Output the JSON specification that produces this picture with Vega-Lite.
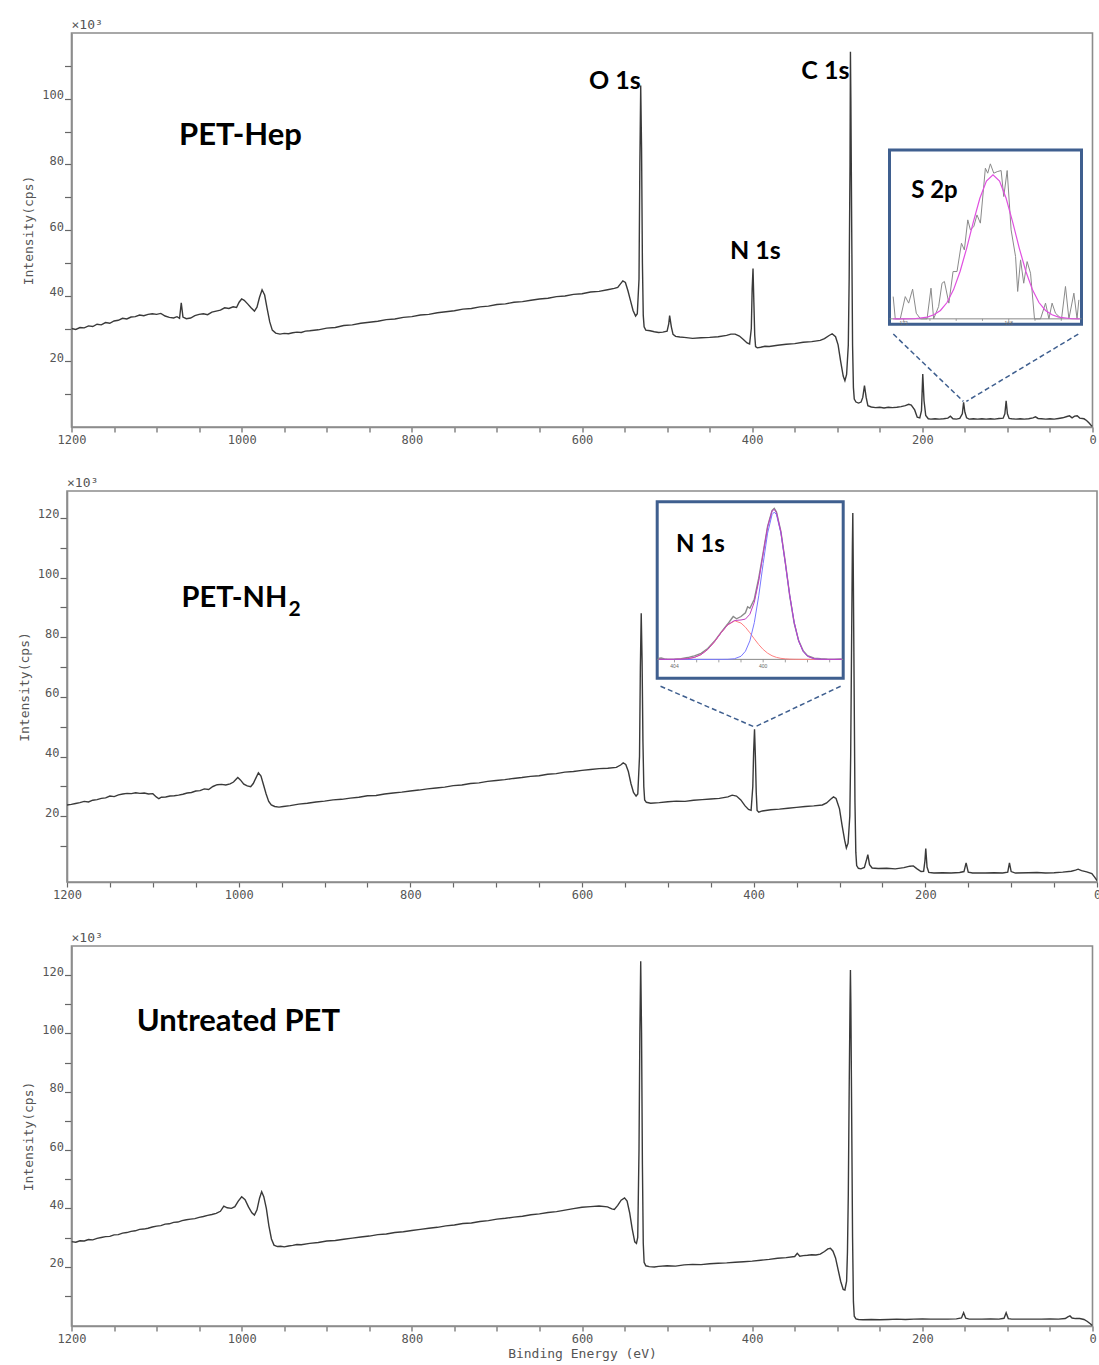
{
  "$schema": "https://vega.github.io/schema/vega-lite/v6.json",
  "padding": {"left": 17, "top": 18, "right": 0, "bottom": 0},
  "background": "white",
  "bounds": "flush",
  "center": true,
  "spacing": 64,
  "datasets": {
    "hep": [
      {"E":1200,"I":30.0},{"E":1195,"I":29.7},{"E":1190,"I":30.3},{"E":1185,"I":30.2},{"E":1180,"I":30.8},{"E":1175,"I":30.6},{"E":1170,"I":31.3},{"E":1165,"I":31.1},{"E":1160,"I":31.8},{"E":1155,"I":31.6},{"E":1150,"I":32.3},{"E":1145,"I":32.5},{"E":1140,"I":33.1},{"E":1135,"I":32.9},{"E":1130,"I":33.5},{"E":1125,"I":33.6},{"E":1120,"I":34.1},{"E":1115,"I":33.9},{"E":1110,"I":34.3},{"E":1105,"I":34.5},{"E":1100,"I":34.3},{"E":1095,"I":34.6},{"E":1090,"I":33.8},{"E":1085,"I":33.4},{"E":1080,"I":33.2},{"E":1076,"I":33.6},{"E":1073,"I":33.1},{"E":1071,"I":37.8},{"E":1069,"I":33.5},{"E":1065,"I":33.0},{"E":1060,"I":33.2},{"E":1055,"I":33.9},{"E":1050,"I":34.3},{"E":1045,"I":34.5},{"E":1040,"I":34.2},{"E":1035,"I":35.0},{"E":1030,"I":35.3},{"E":1025,"I":35.6},{"E":1020,"I":36.3},{"E":1015,"I":36.1},{"E":1010,"I":36.6},{"E":1006,"I":36.4},{"E":1003,"I":38.0},{"E":1000,"I":39.0},{"E":997,"I":38.6},{"E":993,"I":37.5},{"E":989,"I":36.3},{"E":985,"I":35.3},{"E":982,"I":36.5},{"E":979,"I":39.5},{"E":976,"I":41.8},{"E":973,"I":40.2},{"E":970,"I":36.0},{"E":967,"I":32.0},{"E":964,"I":29.5},{"E":960,"I":28.6},{"E":955,"I":28.3},{"E":950,"I":28.5},{"E":945,"I":28.4},{"E":940,"I":28.7},{"E":935,"I":28.9},{"E":930,"I":28.8},{"E":925,"I":29.2},{"E":920,"I":29.3},{"E":910,"I":29.6},{"E":900,"I":30.1},{"E":890,"I":30.3},{"E":880,"I":30.9},{"E":870,"I":31.1},{"E":860,"I":31.6},{"E":850,"I":31.9},{"E":840,"I":32.2},{"E":830,"I":32.7},{"E":820,"I":32.9},{"E":810,"I":33.4},{"E":800,"I":33.6},{"E":790,"I":34.1},{"E":780,"I":34.3},{"E":770,"I":34.8},{"E":760,"I":35.1},{"E":750,"I":35.4},{"E":740,"I":35.9},{"E":730,"I":36.1},{"E":720,"I":36.6},{"E":710,"I":36.8},{"E":700,"I":37.3},{"E":690,"I":37.5},{"E":680,"I":38.0},{"E":670,"I":38.2},{"E":660,"I":38.6},{"E":650,"I":39.0},{"E":640,"I":39.2},{"E":630,"I":39.7},{"E":620,"I":39.9},{"E":610,"I":40.4},{"E":600,"I":40.6},{"E":590,"I":41.1},{"E":580,"I":41.3},{"E":570,"I":41.8},{"E":562,"I":42.2},{"E":558,"I":42.5},{"E":555,"I":43.5},{"E":552,"I":44.5},{"E":549,"I":44.0},{"E":546,"I":41.5},{"E":543,"I":38.5},{"E":540,"I":35.5},{"E":537,"I":33.8},{"E":535,"I":34.5},{"E":533,"I":45},{"E":532,"I":80},{"E":531,"I":104},{"E":530,"I":85},{"E":529,"I":50},{"E":528,"I":34},{"E":527,"I":30.5},{"E":525,"I":29.5},{"E":520,"I":29.3},{"E":515,"I":29.0},{"E":510,"I":28.8},{"E":505,"I":28.9},{"E":500,"I":29.2},{"E":498,"I":31.5},{"E":497,"I":33.9},{"E":495,"I":30.5},{"E":493,"I":28.2},{"E":490,"I":27.6},{"E":485,"I":27.4},{"E":480,"I":27.3},{"E":470,"I":27.0},{"E":460,"I":27.2},{"E":450,"I":27.3},{"E":440,"I":27.5},{"E":430,"I":27.9},{"E":425,"I":28.3},{"E":420,"I":28.3},{"E":415,"I":27.7},{"E":410,"I":26.6},{"E":406,"I":25.6},{"E":403,"I":25.3},{"E":401,"I":30},{"E":400,"I":42},{"E":399,"I":48.3},{"E":398,"I":38},{"E":397,"I":28},{"E":396,"I":24.5},{"E":394,"I":24.1},{"E":390,"I":24.3},{"E":385,"I":24.6},{"E":380,"I":24.5},{"E":370,"I":24.9},{"E":360,"I":25.2},{"E":350,"I":25.4},{"E":340,"I":25.8},{"E":330,"I":26.0},{"E":320,"I":26.4},{"E":315,"I":26.9},{"E":310,"I":27.8},{"E":306,"I":28.4},{"E":302,"I":27.5},{"E":299,"I":25},{"E":296,"I":20},{"E":293,"I":15.5},{"E":291,"I":14.1},{"E":289,"I":16},{"E":287,"I":25},{"E":286,"I":45},{"E":285,"I":80},{"E":284.5,"I":114.3},{"E":284,"I":100},{"E":283,"I":60},{"E":282,"I":25},{"E":281,"I":12},{"E":280,"I":8.5},{"E":278,"I":7.6},{"E":275,"I":7.3},{"E":272,"I":7.6},{"E":270,"I":9},{"E":268,"I":12.6},{"E":266,"I":9},{"E":264,"I":6.5},{"E":260,"I":6.1},{"E":255,"I":5.9},{"E":250,"I":6.0},{"E":245,"I":5.8},{"E":240,"I":6.0},{"E":235,"I":5.9},{"E":230,"I":6.0},{"E":225,"I":6.2},{"E":220,"I":6.5},{"E":216,"I":6.9},{"E":213,"I":6.7},{"E":209,"I":5.2},{"E":206,"I":3.0},{"E":203,"I":2.8},{"E":201,"I":5},{"E":199.5,"I":16.1},{"E":198,"I":8},{"E":196,"I":3.5},{"E":193,"I":2.5},{"E":190,"I":2.4},{"E":185,"I":2.5},{"E":180,"I":2.4},{"E":175,"I":2.5},{"E":170,"I":2.7},{"E":167,"I":3.3},{"E":164,"I":2.5},{"E":160,"I":2.4},{"E":156,"I":2.6},{"E":153,"I":4},{"E":151.5,"I":7.5},{"E":150,"I":4.5},{"E":148,"I":2.8},{"E":145,"I":2.4},{"E":140,"I":2.5},{"E":135,"I":2.4},{"E":130,"I":2.5},{"E":125,"I":2.4},{"E":120,"I":2.5},{"E":115,"I":2.4},{"E":110,"I":2.6},{"E":105,"I":2.7},{"E":103,"I":4},{"E":101.5,"I":8.0},{"E":100,"I":4},{"E":98,"I":2.6},{"E":95,"I":2.5},{"E":90,"I":2.4},{"E":85,"I":2.5},{"E":80,"I":2.4},{"E":75,"I":2.5},{"E":70,"I":2.8},{"E":67,"I":3.1},{"E":64,"I":2.6},{"E":60,"I":2.5},{"E":55,"I":2.4},{"E":50,"I":2.5},{"E":45,"I":2.4},{"E":40,"I":2.6},{"E":35,"I":2.8},{"E":30,"I":3.2},{"E":27,"I":3.4},{"E":24,"I":2.8},{"E":21,"I":3.3},{"E":18,"I":3.4},{"E":15,"I":2.7},{"E":10,"I":2.5},{"E":7,"I":2.0},{"E":4,"I":1.2},{"E":2,"I":0.6},{"E":0,"I":0.2}
    ],
    "nh2": [
      {"E":1200,"I":23.8},{"E":1195,"I":24.0},{"E":1190,"I":24.3},{"E":1185,"I":24.6},{"E":1180,"I":25.0},{"E":1175,"I":24.8},{"E":1170,"I":25.4},{"E":1165,"I":25.6},{"E":1160,"I":26.0},{"E":1155,"I":26.2},{"E":1150,"I":26.8},{"E":1145,"I":26.6},{"E":1140,"I":27.2},{"E":1135,"I":27.5},{"E":1130,"I":27.7},{"E":1125,"I":27.6},{"E":1120,"I":27.9},{"E":1115,"I":27.7},{"E":1110,"I":27.8},{"E":1105,"I":27.5},{"E":1100,"I":27.6},{"E":1096,"I":26.5},{"E":1093,"I":25.9},{"E":1090,"I":26.4},{"E":1085,"I":26.5},{"E":1080,"I":26.8},{"E":1075,"I":26.9},{"E":1070,"I":27.1},{"E":1065,"I":27.4},{"E":1060,"I":27.8},{"E":1055,"I":28.0},{"E":1050,"I":28.5},{"E":1045,"I":28.6},{"E":1040,"I":29.2},{"E":1035,"I":29.0},{"E":1030,"I":30.0},{"E":1025,"I":30.6},{"E":1020,"I":30.7},{"E":1015,"I":30.5},{"E":1010,"I":30.9},{"E":1006,"I":31.5},{"E":1003,"I":32.4},{"E":1001,"I":33.0},{"E":998,"I":32.2},{"E":994,"I":30.8},{"E":990,"I":30.2},{"E":986,"I":29.9},{"E":983,"I":31.0},{"E":980,"I":32.8},{"E":977,"I":34.6},{"E":974,"I":33.5},{"E":971,"I":30.5},{"E":968,"I":27.5},{"E":965,"I":25.0},{"E":962,"I":23.8},{"E":958,"I":23.3},{"E":953,"I":23.1},{"E":948,"I":23.3},{"E":940,"I":23.6},{"E":930,"I":24.1},{"E":920,"I":24.4},{"E":910,"I":24.8},{"E":900,"I":25.1},{"E":890,"I":25.5},{"E":880,"I":25.7},{"E":870,"I":26.1},{"E":860,"I":26.4},{"E":850,"I":26.9},{"E":840,"I":27.0},{"E":830,"I":27.5},{"E":820,"I":27.8},{"E":810,"I":28.1},{"E":800,"I":28.5},{"E":790,"I":28.8},{"E":780,"I":29.2},{"E":770,"I":29.5},{"E":760,"I":29.8},{"E":750,"I":30.3},{"E":740,"I":30.5},{"E":730,"I":31.0},{"E":720,"I":31.2},{"E":710,"I":31.7},{"E":700,"I":32.0},{"E":690,"I":32.3},{"E":680,"I":32.7},{"E":670,"I":33.0},{"E":660,"I":33.4},{"E":650,"I":33.6},{"E":640,"I":34.1},{"E":630,"I":34.3},{"E":620,"I":34.8},{"E":610,"I":35.0},{"E":600,"I":35.4},{"E":590,"I":35.7},{"E":580,"I":36.0},{"E":570,"I":36.1},{"E":560,"I":36.4},{"E":555,"I":37.2},{"E":552,"I":37.9},{"E":549,"I":37.4},{"E":546,"I":35},{"E":543,"I":31},{"E":540,"I":28},{"E":537,"I":26.8},{"E":535,"I":27.5},{"E":533,"I":40},{"E":532,"I":70},{"E":531,"I":88},{"E":530,"I":72},{"E":529,"I":45},{"E":528,"I":30},{"E":527,"I":25.5},{"E":525,"I":24.7},{"E":520,"I":24.4},{"E":510,"I":24.6},{"E":500,"I":24.9},{"E":490,"I":25.1},{"E":480,"I":25.0},{"E":470,"I":25.4},{"E":460,"I":25.6},{"E":450,"I":25.8},{"E":440,"I":26.0},{"E":430,"I":26.5},{"E":425,"I":27.1},{"E":420,"I":26.8},{"E":415,"I":25.5},{"E":410,"I":23.5},{"E":406,"I":22.3},{"E":403,"I":22.0},{"E":401,"I":30},{"E":400,"I":42},{"E":399,"I":49.2},{"E":398,"I":40},{"E":397,"I":28},{"E":396,"I":22},{"E":394,"I":21.4},{"E":390,"I":21.8},{"E":380,"I":22.2},{"E":370,"I":22.4},{"E":360,"I":22.7},{"E":350,"I":23.0},{"E":340,"I":23.3},{"E":330,"I":23.5},{"E":320,"I":23.8},{"E":315,"I":24.5},{"E":310,"I":25.8},{"E":307,"I":26.5},{"E":304,"I":26},{"E":300,"I":22.5},{"E":297,"I":17},{"E":294,"I":12},{"E":292,"I":9.4},{"E":290,"I":11},{"E":288,"I":20},{"E":287,"I":40},{"E":286,"I":75},{"E":285,"I":110},{"E":284.5,"I":121.6},{"E":284,"I":105},{"E":283,"I":65},{"E":282,"I":25},{"E":281,"I":8},{"E":280,"I":3.5},{"E":278,"I":2.6},{"E":275,"I":2.4},{"E":271,"I":2.9},{"E":268,"I":6},{"E":267,"I":7.2},{"E":265,"I":3.8},{"E":262,"I":2.7},{"E":255,"I":2.5},{"E":245,"I":2.6},{"E":235,"I":2.4},{"E":225,"I":2.8},{"E":218,"I":3.3},{"E":214,"I":3.4},{"E":210,"I":2.5},{"E":205,"I":1.5},{"E":202,"I":1.6},{"E":200.5,"I":5},{"E":199.5,"I":9.2},{"E":198,"I":3},{"E":196,"I":1.2},{"E":190,"I":1.0},{"E":180,"I":1.1},{"E":170,"I":1.0},{"E":160,"I":1.2},{"E":155,"I":1.5},{"E":152.5,"I":4.4},{"E":150,"I":1.3},{"E":145,"I":1.0},{"E":130,"I":1.0},{"E":120,"I":1.1},{"E":110,"I":1.0},{"E":104,"I":1.3},{"E":102,"I":4.4},{"E":100,"I":1.5},{"E":95,"I":1.0},{"E":80,"I":1.1},{"E":70,"I":1.2},{"E":60,"I":1.0},{"E":50,"I":1.1},{"E":40,"I":1.3},{"E":30,"I":1.6},{"E":25,"I":2.0},{"E":22,"I":2.3},{"E":18,"I":1.8},{"E":12,"I":1.4},{"E":6,"I":0.8},{"E":3,"I":-0.3},{"E":0,"I":-1.5}
    ],
    "untreated": [
      {"E":1200,"I":28.6},{"E":1195,"I":28.4},{"E":1190,"I":28.9},{"E":1185,"I":28.8},{"E":1180,"I":29.3},{"E":1175,"I":29.2},{"E":1170,"I":29.7},{"E":1165,"I":30.0},{"E":1160,"I":30.3},{"E":1155,"I":30.4},{"E":1150,"I":30.9},{"E":1145,"I":31.0},{"E":1140,"I":31.5},{"E":1135,"I":31.7},{"E":1130,"I":32.1},{"E":1125,"I":32.3},{"E":1120,"I":32.8},{"E":1115,"I":32.9},{"E":1110,"I":33.2},{"E":1105,"I":33.6},{"E":1100,"I":33.9},{"E":1095,"I":34.1},{"E":1090,"I":34.6},{"E":1085,"I":34.7},{"E":1080,"I":35.2},{"E":1075,"I":35.3},{"E":1070,"I":35.8},{"E":1065,"I":36.1},{"E":1060,"I":36.3},{"E":1055,"I":36.5},{"E":1050,"I":36.9},{"E":1045,"I":37.2},{"E":1040,"I":37.6},{"E":1035,"I":37.9},{"E":1030,"I":38.3},{"E":1025,"I":39.0},{"E":1021,"I":40.8},{"E":1017,"I":40.2},{"E":1012,"I":40.0},{"E":1008,"I":40.6},{"E":1004,"I":42.5},{"E":1000,"I":44.0},{"E":996,"I":43.0},{"E":992,"I":40.5},{"E":988,"I":38.5},{"E":985,"I":37.7},{"E":982,"I":39.5},{"E":979,"I":43.5},{"E":976.5,"I":45.7},{"E":974,"I":44.0},{"E":971,"I":40.0},{"E":968,"I":34.0},{"E":965,"I":29.5},{"E":962,"I":27.4},{"E":958,"I":26.9},{"E":954,"I":27.0},{"E":950,"I":26.8},{"E":945,"I":27.1},{"E":940,"I":27.3},{"E":935,"I":27.6},{"E":930,"I":27.5},{"E":920,"I":28.0},{"E":910,"I":28.3},{"E":900,"I":28.8},{"E":890,"I":29.0},{"E":880,"I":29.4},{"E":870,"I":29.8},{"E":860,"I":30.2},{"E":850,"I":30.5},{"E":840,"I":31.0},{"E":830,"I":31.2},{"E":820,"I":31.7},{"E":810,"I":32.0},{"E":800,"I":32.4},{"E":790,"I":32.8},{"E":780,"I":33.2},{"E":770,"I":33.5},{"E":760,"I":34.0},{"E":750,"I":34.3},{"E":740,"I":34.8},{"E":730,"I":35.0},{"E":720,"I":35.5},{"E":710,"I":35.8},{"E":700,"I":36.3},{"E":690,"I":36.6},{"E":680,"I":37.0},{"E":670,"I":37.3},{"E":660,"I":37.8},{"E":650,"I":38.1},{"E":640,"I":38.6},{"E":630,"I":38.9},{"E":620,"I":39.4},{"E":610,"I":39.9},{"E":600,"I":40.4},{"E":590,"I":40.6},{"E":580,"I":40.8},{"E":570,"I":40.5},{"E":565,"I":39.8},{"E":562,"I":39.6},{"E":558,"I":41},{"E":554,"I":42.8},{"E":550,"I":43.6},{"E":547,"I":42.5},{"E":544,"I":38.5},{"E":541,"I":33},{"E":538,"I":28.5},{"E":536,"I":28.0},{"E":534.5,"I":30},{"E":533,"I":60},{"E":532,"I":100},{"E":531,"I":124.8},{"E":530,"I":100},{"E":529,"I":55},{"E":528,"I":28},{"E":527,"I":21.5},{"E":525,"I":20.3},{"E":521,"I":20.0},{"E":515,"I":19.9},{"E":510,"I":20.1},{"E":500,"I":20.3},{"E":490,"I":20.2},{"E":480,"I":20.6},{"E":470,"I":20.8},{"E":460,"I":20.7},{"E":450,"I":21.0},{"E":440,"I":21.2},{"E":430,"I":21.3},{"E":420,"I":21.5},{"E":410,"I":21.7},{"E":400,"I":21.9},{"E":390,"I":22.2},{"E":380,"I":22.5},{"E":370,"I":22.9},{"E":360,"I":23.1},{"E":350,"I":23.5},{"E":347,"I":24.6},{"E":344,"I":23.6},{"E":340,"I":23.8},{"E":335,"I":23.9},{"E":330,"I":24.1},{"E":325,"I":24.0},{"E":320,"I":24.3},{"E":315,"I":25.2},{"E":311,"I":26.1},{"E":308,"I":26.3},{"E":305,"I":25.3},{"E":302,"I":23},{"E":299,"I":19},{"E":296,"I":15},{"E":293,"I":12.2},{"E":291,"I":12.0},{"E":289,"I":15},{"E":288,"I":25},{"E":287,"I":45},{"E":286,"I":80},{"E":285,"I":110},{"E":284.5,"I":121.8},{"E":284,"I":110},{"E":283,"I":70},{"E":282,"I":30},{"E":281,"I":8},{"E":280,"I":3},{"E":278,"I":2.1},{"E":275,"I":1.9},{"E":270,"I":1.8},{"E":260,"I":1.9},{"E":250,"I":1.8},{"E":240,"I":1.9},{"E":230,"I":2.0},{"E":220,"I":1.9},{"E":210,"I":2.0},{"E":200,"I":2.1},{"E":190,"I":2.0},{"E":180,"I":2.0},{"E":170,"I":2.0},{"E":160,"I":2.1},{"E":154,"I":2.4},{"E":151.5,"I":4.2},{"E":149,"I":2.3},{"E":145,"I":2.0},{"E":130,"I":2.0},{"E":120,"I":2.1},{"E":110,"I":2.0},{"E":104,"I":2.3},{"E":101.5,"I":4.2},{"E":99,"I":2.2},{"E":95,"I":2.0},{"E":80,"I":2.0},{"E":70,"I":2.0},{"E":60,"I":2.0},{"E":50,"I":2.1},{"E":40,"I":2.0},{"E":32,"I":2.2},{"E":29,"I":2.8},{"E":26.5,"I":3.1},{"E":24,"I":2.4},{"E":20,"I":2.2},{"E":15,"I":2.2},{"E":10,"I":1.9},{"E":6,"I":1.2},{"E":3,"I":0.5},{"E":0,"I":-0.2}
    ],
    "s2p": [
      {"E":172.40,"I":14.3},{"E":172.32,"I":0},{"E":172.13,"I":0},{"E":171.94,"I":14.3},{"E":171.81,"I":10.1},{"E":171.66,"I":19.1},{"E":171.52,"I":3.6},{"E":171.36,"I":0},{"E":171.11,"I":0},{"E":170.96,"I":19.7},{"E":170.86,"I":0},{"E":170.67,"I":7.9},{"E":170.54,"I":22.9},{"E":170.45,"I":24.0},{"E":170.28,"I":10.1},{"E":170.12,"I":30.4},{"E":169.97,"I":30.4},{"E":169.80,"I":48.6},{"E":169.69,"I":44.3},{"E":169.56,"I":63.6},{"E":169.46,"I":57.2},{"E":169.33,"I":59.3},{"E":169.21,"I":66.8},{"E":169.08,"I":61.5},{"E":168.89,"I":96.8},{"E":168.80,"I":93.6},{"E":168.70,"I":99.6},{"E":168.57,"I":93.6},{"E":168.44,"I":94.6},{"E":168.29,"I":95.3},{"E":168.19,"I":78.6},{"E":168.06,"I":95.3},{"E":167.91,"I":57.2},{"E":167.74,"I":40.0},{"E":167.66,"I":17.6},{"E":167.55,"I":37.9},{"E":167.43,"I":22.9},{"E":167.30,"I":36.8},{"E":167.17,"I":29.3},{"E":167.02,"I":0},{"E":166.79,"I":0},{"E":166.60,"I":10.1},{"E":166.47,"I":0},{"E":166.35,"I":10.1},{"E":166.22,"I":3.6},{"E":165.99,"I":0},{"E":165.84,"I":20.8},{"E":165.71,"I":0},{"E":165.52,"I":16.5},{"E":165.40,"I":0},{"E":165.33,"I":12.2}
    ],
    "s2pfit": [
      {"E":172.4,"I":0},{"E":172.0,"I":0},{"E":171.6,"I":0.05},{"E":171.1,"I":1.1},{"E":170.85,"I":2.6},{"E":170.6,"I":5.4},{"E":170.35,"I":10.5},{"E":170.1,"I":18.8},{"E":169.85,"I":30.6},{"E":169.6,"I":45.5},{"E":169.35,"I":62.1},{"E":169.1,"I":77.5},{"E":168.85,"I":88.5},{"E":168.6,"I":92.5},{"E":168.35,"I":88.5},{"E":168.1,"I":77.5},{"E":167.85,"I":62.1},{"E":167.6,"I":45.5},{"E":167.35,"I":30.6},{"E":167.1,"I":18.8},{"E":166.85,"I":10.5},{"E":166.6,"I":5.4},{"E":166.35,"I":2.6},{"E":166.1,"I":1.1},{"E":165.6,"I":0.05},{"E":165.3,"I":0}
    ],
    "n1s": [
      {"E":404.75,"I":0.6},{"E":404.6,"I":0.9},{"E":404.45,"I":0.3},{"E":404.3,"I":0.0},{"E":404.0,"I":0.1},{"E":403.7,"I":0.4},{"E":403.4,"I":1.2},{"E":403.2,"I":2.0},{"E":403.1,"I":2.3},{"E":402.8,"I":4.0},{"E":402.5,"I":7.2},{"E":402.2,"I":12.0},{"E":401.9,"I":18.0},{"E":401.6,"I":23.5},{"E":401.45,"I":26.5},{"E":401.35,"I":28.5},{"E":401.2,"I":27.0},{"E":401.0,"I":28.5},{"E":400.8,"I":31.0},{"E":400.7,"I":35.0},{"E":400.6,"I":34.0},{"E":400.4,"I":40.0},{"E":400.2,"I":54.0},{"E":400.0,"I":71.0},{"E":399.8,"I":88.5},{"E":399.6,"I":99.0},{"E":399.5,"I":100.5},{"E":399.4,"I":98.0},{"E":399.2,"I":85.0},{"E":399.0,"I":64.5},{"E":398.8,"I":42.0},{"E":398.6,"I":24.0},{"E":398.4,"I":12.5},{"E":398.2,"I":5.8},{"E":398.0,"I":2.5},{"E":397.7,"I":0.8},{"E":397.4,"I":0.4},{"E":397.1,"I":0.1},{"E":396.8,"I":0.0},{"E":396.45,"I":0.2}
    ],
    "n1sblue": [
      {"E":404.7,"I":0},{"E":402.2,"I":0},{"E":401.9,"I":0.01},{"E":401.6,"I":0.05},{"E":401.3,"I":0.38},{"E":401.0,"I":2.07},{"E":400.8,"I":5.4},{"E":400.6,"I":12.3},{"E":400.4,"I":24.4},{"E":400.2,"I":42.3},{"E":400.0,"I":63.8},{"E":399.8,"I":84.0},{"E":399.6,"I":96.3},{"E":399.5,"I":98},{"E":399.4,"I":96.3},{"E":399.2,"I":84.0},{"E":399.0,"I":63.8},{"E":398.8,"I":42.3},{"E":398.6,"I":24.4},{"E":398.4,"I":12.3},{"E":398.2,"I":5.4},{"E":398.0,"I":2.07},{"E":397.7,"I":0.38},{"E":397.4,"I":0.05},{"E":397.1,"I":0},{"E":396.45,"I":0}
    ],
    "n1sred": [
      {"E":404.7,"I":0},{"E":404.4,"I":0.01},{"E":404.0,"I":0.04},{"E":403.7,"I":0.14},{"E":403.4,"I":0.47},{"E":403.1,"I":1.32},{"E":402.8,"I":3.19},{"E":402.5,"I":6.59},{"E":402.2,"I":11.68},{"E":401.9,"I":17.69},{"E":401.6,"I":22.93},{"E":401.3,"I":25.44},{"E":401.25,"I":25.5},{"E":401.0,"I":24.15},{"E":400.8,"I":21.4},{"E":400.6,"I":17.69},{"E":400.4,"I":13.65},{"E":400.2,"I":9.82},{"E":400.0,"I":6.59},{"E":399.8,"I":4.13},{"E":399.6,"I":2.41},{"E":399.4,"I":1.32},{"E":399.2,"I":0.67},{"E":399.0,"I":0.32},{"E":398.8,"I":0.14},{"E":398.6,"I":0.06},{"E":398.2,"I":0},{"E":396.45,"I":0}
    ],
    "n1senv": [
      {"E":404.7,"I":0},{"E":404.4,"I":0.01},{"E":404.0,"I":0.04},{"E":403.7,"I":0.14},{"E":403.4,"I":0.47},{"E":403.1,"I":1.32},{"E":402.8,"I":3.19},{"E":402.5,"I":6.59},{"E":402.2,"I":11.68},{"E":401.9,"I":17.7},{"E":401.6,"I":22.98},{"E":401.3,"I":25.82},{"E":401.0,"I":26.22},{"E":400.8,"I":26.8},{"E":400.6,"I":30.0},{"E":400.4,"I":38.05},{"E":400.2,"I":52.1},{"E":400.0,"I":70.4},{"E":399.8,"I":88.1},{"E":399.6,"I":98.7},{"E":399.5,"I":99.8},{"E":399.4,"I":97.6},{"E":399.2,"I":84.7},{"E":399.0,"I":64.1},{"E":398.8,"I":42.4},{"E":398.6,"I":24.5},{"E":398.4,"I":12.3},{"E":398.2,"I":5.4},{"E":398.0,"I":2.07},{"E":397.7,"I":0.38},{"E":397.4,"I":0.05},{"E":397.1,"I":0},{"E":396.45,"I":0}
    ]
  },
  "vconcat": [
    {
      "width": 1021,
      "height": 394,
      "resolve": {"scale": {"x": "independent", "y": "independent"}},
      "layer": [
        {
          "encoding": {
            "x": {"field": "E", "type": "quantitative", "scale": {"domain": [0, 1200], "reverse": true, "nice": false, "zero": false},
                  "axis": {"title": null, "values": [0,50,100,150,200,250,300,350,400,450,500,550,600,650,700,750,800,850,900,950,1000,1050,1100,1150,1200], "format": "d", "labelExpr": "datum.value % 200 === 0 ? datum.label : ''"}},
            "y": {"field": "I", "type": "quantitative", "scale": {"domain": [0, 120], "nice": false, "zero": false},
                  "axis": {"title": "Intensity(cps)", "values": [10,20,30,40,50,60,70,80,90,100,110], "format": "d", "labelExpr": "datum.value % 20 === 0 ? datum.label : ''"}}
          },
          "layer": [
            {"data": {"name": "hep"}, "mark": {"type": "line", "color": "#3a3a3a", "strokeWidth": 1.4, "clip": true}, "encoding": {}},
            {"data": {"values": [{"E": 234.1, "I": 28.3, "E2": 151.8, "I2": 7.8}, {"E": 16.7, "I": 28.3, "E2": 148.3, "I2": 7.8}]},
             "mark": {"type": "rule", "color": "#3f5f8f", "strokeWidth": 1.5, "strokeDash": [5, 3]},
             "encoding": {"x2": {"field": "E2"}, "y2": {"field": "I2"}}},
            {"data": {"values": [{"E": 1001.4, "I": 88.6, "t": "PET-Hep"}]},
             "mark": {"type": "text", "font": "Lato", "fontWeight": "bold", "fontSize": 31, "color": "#000000", "align": "center", "baseline": "middle"},
             "encoding": {"text": {"field": "t"}}},
            {"data": {"values": [{"E": 561.3, "I": 105.4, "t": "O 1s"}, {"E": 396.2, "I": 53.6, "t": "N 1s"}, {"E": 314.0, "I": 108.4, "t": "C 1s"}]},
             "mark": {"type": "text", "font": "Lato", "fontWeight": "bold", "fontSize": 25, "color": "#000000", "align": "center", "baseline": "middle"},
             "encoding": {"text": {"field": "t"}}},
            {"data": {"values": [{"E": 1200, "I": 120, "t": "×10³"}]},
             "mark": {"type": "text", "font": "DejaVu Sans Mono", "fontSize": 13, "color": "#555555", "align": "left", "baseline": "bottom", "dy": -1},
             "encoding": {"text": {"field": "t"}}}
          ]
        },
        {
          "encoding": {
            "x": {"field": "E", "type": "quantitative", "scale": {"domain": [165.23, 172.54], "range": [1010, 818], "nice": false, "zero": false}, "axis": null},
            "y": {"field": "I", "type": "quantitative", "scale": {"domain": [-3.5, 108.5], "range": [291.3, 117], "nice": false, "zero": false}, "axis": null}
          },
          "layer": [
            {"data": {"values": [{"E": 165.23, "E2": 172.54, "I": -3.5, "I2": 108.5}]},
             "mark": {"type": "rect", "fill": "white", "stroke": "#3f5f8f", "strokeWidth": 3},
             "encoding": {"x2": {"field": "E2"}, "y2": {"field": "I2"}}},
            {"data": {"values": [{"E": 172.54, "E2": 165.23, "I": 0}]},
             "mark": {"type": "rule", "color": "#888888", "strokeWidth": 1},
             "encoding": {"x2": {"field": "E2"}}},
            {"data": {"values": [{"E": 172, "I": 0, "I2": -1.3}, {"E": 171, "I": 0, "I2": -1.3}, {"E": 170, "I": 0, "I2": -1.3}, {"E": 169, "I": 0, "I2": -1.3}, {"E": 168, "I": 0, "I2": -1.3}, {"E": 167, "I": 0, "I2": -1.3}, {"E": 166, "I": 0, "I2": -1.3}]},
             "mark": {"type": "rule", "color": "#888888", "strokeWidth": 0.8},
             "encoding": {"y2": {"field": "I2"}}},
            {"data": {"values": [{"E": 172, "I": -1.2, "t": "172"}, {"E": 168, "I": -1.2, "t": "168"}]},
             "mark": {"type": "text", "fontSize": 5, "color": "#666666", "baseline": "top", "align": "center"},
             "encoding": {"text": {"field": "t"}}},
            {"data": {"name": "s2p"}, "mark": {"type": "line", "color": "#8a8a8a", "strokeWidth": 1}, "encoding": {}},
            {"data": {"name": "s2pfit"}, "mark": {"type": "line", "color": "#e050e0", "strokeWidth": 1.2}, "encoding": {}},
            {"data": {"values": [{"E": 170.83, "I": 82.2, "t": "S 2p"}]},
             "mark": {"type": "text", "font": "Lato", "fontWeight": "bold", "fontSize": 24, "color": "#000000", "align": "center", "baseline": "middle"},
             "encoding": {"text": {"field": "t"}}}
          ]
        }
      ]
    },
    {
      "width": 1030,
      "height": 391,
      "resolve": {"scale": {"x": "independent", "y": "independent"}},
      "layer": [
        {
          "encoding": {
            "x": {"field": "E", "type": "quantitative", "scale": {"domain": [0, 1200], "reverse": true, "nice": false, "zero": false},
                  "axis": {"title": null, "values": [0,50,100,150,200,250,300,350,400,450,500,550,600,650,700,750,800,850,900,950,1000,1050,1100,1150,1200], "format": "d", "labelExpr": "datum.value % 200 === 0 ? datum.label : ''"}},
            "y": {"field": "I", "type": "quantitative", "scale": {"domain": [-2, 129], "nice": false, "zero": false},
                  "axis": {"title": "Intensity(cps)", "values": [10,20,30,40,50,60,70,80,90,100,110,120], "format": "d", "labelExpr": "datum.value % 20 === 0 ? datum.label : ''"}}
          },
          "layer": [
            {"data": {"name": "nh2"}, "mark": {"type": "line", "color": "#3a3a3a", "strokeWidth": 1.4, "clip": true}, "encoding": {}},
            {"data": {"values": [{"E": 508.5, "I": 63.6, "E2": 399.6, "I2": 50}, {"E": 298.7, "I": 63.6, "E2": 398.4, "I2": 50}]},
             "mark": {"type": "rule", "color": "#3f5f8f", "strokeWidth": 1.5, "strokeDash": [5, 3]},
             "encoding": {"x2": {"field": "E2"}, "y2": {"field": "I2"}}},
            {"data": {"values": [{"E": 1066.6, "I": 93.1, "t": "PET-NH"}]},
             "mark": {"type": "text", "font": "Lato", "fontWeight": "bold", "fontSize": 29, "color": "#000000", "align": "left", "baseline": "middle"},
             "encoding": {"text": {"field": "t"}}},
            {"data": {"values": [{"E": 941.9, "I": 89.1, "t": "2"}]},
             "mark": {"type": "text", "font": "Lato", "fontWeight": "bold", "fontSize": 21, "color": "#000000", "align": "left", "baseline": "middle"},
             "encoding": {"text": {"field": "t"}}},
            {"data": {"values": [{"E": 1200, "I": 129, "t": "×10³"}]},
             "mark": {"type": "text", "font": "DejaVu Sans Mono", "fontSize": 13, "color": "#555555", "align": "left", "baseline": "bottom", "dy": -1},
             "encoding": {"text": {"field": "t"}}}
          ]
        },
        {
          "encoding": {
            "x": {"field": "E", "type": "quantitative", "scale": {"domain": [396.39, 404.78], "range": [776.2, 590.2], "nice": false, "zero": false}, "axis": null},
            "y": {"field": "I", "type": "quantitative", "scale": {"domain": [-12.6, 104.9], "range": [187.3, 10.7], "nice": false, "zero": false}, "axis": null}
          },
          "layer": [
            {"data": {"values": [{"E": 396.39, "E2": 404.78, "I": -12.6, "I2": 104.9}]},
             "mark": {"type": "rect", "fill": "white", "stroke": "#3f5f8f", "strokeWidth": 3},
             "encoding": {"x2": {"field": "E2"}, "y2": {"field": "I2"}}},
            {"data": {"values": [{"E": 404.78, "E2": 396.39, "I": 0}]},
             "mark": {"type": "rule", "color": "#888888", "strokeWidth": 1},
             "encoding": {"x2": {"field": "E2"}}},
            {"data": {"values": [{"E": 404, "I": 0, "I2": -2}, {"E": 403, "I": 0, "I2": -2}, {"E": 402, "I": 0, "I2": -2}, {"E": 401, "I": 0, "I2": -2}, {"E": 400, "I": 0, "I2": -2}, {"E": 399, "I": 0, "I2": -2}, {"E": 398, "I": 0, "I2": -2}, {"E": 397, "I": 0, "I2": -2}]},
             "mark": {"type": "rule", "color": "#888888", "strokeWidth": 0.8},
             "encoding": {"y2": {"field": "I2"}}},
            {"data": {"values": [{"E": 404, "I": -3, "t": "404"}, {"E": 400, "I": -3, "t": "400"}]},
             "mark": {"type": "text", "fontSize": 5, "color": "#666666", "baseline": "top", "align": "center"},
             "encoding": {"text": {"field": "t"}}},
            {"data": {"name": "n1s"}, "mark": {"type": "line", "color": "#8a8a8a", "strokeWidth": 1.4}, "encoding": {}},
            {"data": {"name": "n1sred"}, "mark": {"type": "line", "color": "#ff8080", "strokeWidth": 1}, "encoding": {}},
            {"data": {"name": "n1sblue"}, "mark": {"type": "line", "color": "#7878ff", "strokeWidth": 1}, "encoding": {}},
            {"data": {"name": "n1senv"}, "mark": {"type": "line", "color": "#c040c0", "strokeWidth": 1}, "encoding": {}},
            {"data": {"values": [{"E": 402.83, "I": 76.1, "t": "N 1s"}]},
             "mark": {"type": "text", "font": "Lato", "fontWeight": "bold", "fontSize": 24, "color": "#000000", "align": "center", "baseline": "middle"},
             "encoding": {"text": {"field": "t"}}}
          ]
        }
      ]
    },
    {
      "width": 1021,
      "height": 380,
      "encoding": {
        "x": {"field": "E", "type": "quantitative", "scale": {"domain": [0, 1200], "reverse": true, "nice": false, "zero": false},
              "axis": {"title": "Binding Energy (eV)", "values": [0,50,100,150,200,250,300,350,400,450,500,550,600,650,700,750,800,850,900,950,1000,1050,1100,1150,1200], "format": "d", "labelExpr": "datum.value % 200 === 0 ? datum.label : ''"}},
        "y": {"field": "I", "type": "quantitative", "scale": {"domain": [-0.35, 130], "nice": false, "zero": false},
              "axis": {"title": "Intensity(cps)", "values": [10,20,30,40,50,60,70,80,90,100,110,120], "format": "d", "labelExpr": "datum.value % 20 === 0 ? datum.label : ''"}}
      },
      "layer": [
        {"data": {"name": "untreated"}, "mark": {"type": "line", "color": "#3a3a3a", "strokeWidth": 1.4, "clip": true}, "encoding": {}},
        {"data": {"values": [{"E": 1003.8, "I": 103.9, "t": "Untreated PET"}]},
         "mark": {"type": "text", "font": "Lato", "fontWeight": "bold", "fontSize": 31, "color": "#000000", "align": "center", "baseline": "middle"},
         "encoding": {"text": {"field": "t"}}},
        {"data": {"values": [{"E": 1200, "I": 130, "t": "×10³"}]},
         "mark": {"type": "text", "font": "DejaVu Sans Mono", "fontSize": 13, "color": "#555555", "align": "left", "baseline": "bottom", "dy": -1},
         "encoding": {"text": {"field": "t"}}}
      ]
    }
  ],
  "config": {
    "view": {"stroke": "#8c8c8c", "strokeWidth": 1.6},
    "axis": {"grid": false, "labelFont": "DejaVu Sans Mono", "labelFontSize": 12, "labelColor": "#555555", "titleFont": "DejaVu Sans Mono", "titleFontSize": 13, "titleFontWeight": "normal", "titleColor": "#555555", "domainColor": "#8c8c8c", "domainWidth": 1.6, "tickColor": "#666666", "tickWidth": 1.2, "labelFlush": false, "labelOverlap": false},
    "axisX": {"tickSize": 5, "labelPadding": 2, "titlePadding": 3},
    "axisY": {"tickSize": 7, "labelPadding": 1, "labelBaseline": "alphabetic", "titlePadding": 6}
  }
}
